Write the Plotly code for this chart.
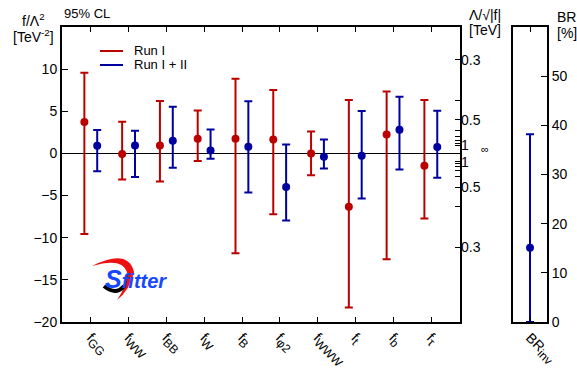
import plotly.graph_objects as go

W, H = 577, 369

# ---------------- data ----------------
subs = ["GG", "WW", "BB", "W", "B", "φ2", "WWW", "t", "b", "τ"]
categories = [f"f<sub><span style='font-size:12px'>{s}</span></sub>" for s in subs]

run1_central = [3.72, -0.08, 0.95, 1.73, 1.73, 1.66, 0.00, -6.34, 2.26, -1.47]
run1_upper = [9.57, 3.75, 6.21, 5.10, 8.86, 7.52, 2.61, 6.33, 7.36, 6.33]
run1_lower = [-9.55, -3.09, -3.33, -0.91, -11.84, -7.21, -2.58, -18.29, -12.55, -7.72]

run12_central = [0.90, 0.95, 1.50, 0.36, 0.78, -3.97, -0.40, -0.29, 2.80, 0.75]
run12_upper = [2.77, 2.68, 5.53, 2.85, 6.18, 1.07, 1.66, 5.02, 6.72, 5.06]
run12_lower = [-2.10, -2.81, -1.71, -0.64, -4.63, -7.96, -1.78, -5.34, -1.90, -2.90]

br_category = ["BR<sub><span style='font-size:12px'>inv</span></sub>"]
br_central = [15.1]
br_upper = [38.2]
br_lower = [0.0]

# right axis: Lambda/sqrt|f| in TeV
lambda_major = [0.3, 0.5, 1.0]
lambda_major_labels = ["0.3", "0.5", "1"]
lambda_minor = [0.4, 0.6, 0.7, 0.8, 0.9]

br_ticks = [0, 10, 20, 30, 40, 50]

RED = "#bb0000"
BLUE = "#0000a0"
FONT = "Liberation Sans, Arial, sans-serif"

def px_x(p):
    return p / W

def px_y(p):
    return 1 - p / H

# layout geometry (pixels)
main_l, main_r = 62, 460
br_l, br_r = 513, 547
top, bottom = 27, 322

idx = list(range(len(categories)))

fig = go.Figure()

def add_series(central, upper, lower, offset, color, name):
    fig.add_trace(go.Scatter(
        x=[i + offset for i in idx], y=central, mode="markers", name=name,
        marker=dict(color=color, size=8),
        error_y=dict(type="data", symmetric=False,
                     array=[u - c for u, c in zip(upper, central)],
                     arrayminus=[c - l for c, l in zip(central, lower)],
                     color=color, thickness=2, width=4),
        showlegend=False, xaxis="x", yaxis="y"))

add_series(run1_central, run1_upper, run1_lower, -0.175, RED, "Run I")
add_series(run12_central, run12_upper, run12_lower, 0.165, BLUE, "Run I + II")

fig.add_trace(go.Scatter(
    x=br_category, y=br_central, mode="markers",
    marker=dict(color=BLUE, size=8),
    error_y=dict(type="data", symmetric=False,
                 array=[u - c for u, c in zip(br_upper, br_central)],
                 arrayminus=[c - l for c, l in zip(br_central, br_lower)],
                 color=BLUE, thickness=2, width=4),
    showlegend=False, xaxis="x2", yaxis="y2"))

# invisible trace to activate the right-hand Lambda axis
fig.add_trace(go.Scatter(x=[0], y=[0], mode="markers", marker=dict(opacity=0),
                         showlegend=False, hoverinfo="skip", xaxis="x", yaxis="y3"))

lam_vals = [1 / l ** 2 for l in lambda_major] + [-1 / l ** 2 for l in lambda_major]
lam_text = lambda_major_labels + lambda_major_labels
lam_minor_vals = [1 / l ** 2 for l in lambda_minor] + [-1 / l ** 2 for l in lambda_minor]

tickfont = dict(family=FONT, size=14, color="black")
common = dict(showgrid=False, automargin=False, tickcolor="black", tickwidth=1)

fig.update_layout(
    width=W, height=H, margin=dict(l=0, r=0, t=0, b=0, autoexpand=False),
    paper_bgcolor="white", plot_bgcolor="white",
    font=dict(family=FONT, size=14, color="black"),
    xaxis=dict(domain=[px_x(main_l), px_x(main_r)], range=[-0.767, 9.767],
               tickvals=idx, ticktext=categories, tickangle=45,
               ticks="inside", ticklen=5,
               showline=True, linecolor="black", linewidth=2, mirror="ticks",
               zeroline=False, tickfont=tickfont,
               anchor="y", **common),
    yaxis=dict(domain=[px_y(bottom), px_y(top)], range=[-20, 15],
               tickvals=[-20, -15, -10, -5, 0, 5, 10],
               ticks="inside", ticklen=6,
               showline=True, linecolor="black", linewidth=2, mirror=True,
               zeroline=True, zerolinecolor="black", zerolinewidth=1,
               tickfont=tickfont, anchor="x", **common),
    yaxis3=dict(overlaying="y", side="right", anchor="x", range=[-20, 15],
                tickvals=lam_vals, ticktext=lam_text,
                ticks="inside", ticklen=5,
                minor=dict(tickvals=lam_minor_vals, ticks="inside", ticklen=5,
                           tickcolor="black", tickwidth=1, showgrid=False),
                showline=False, zeroline=False,
                tickfont=tickfont, **common),
    xaxis2=dict(domain=[px_x(br_l), px_x(br_r)], type="category",
                tickangle=45, ticks="inside", ticklen=5,
                showline=True, linecolor="black", linewidth=2, mirror="ticks",
                zeroline=False, tickfont=tickfont,
                anchor="y2", **common),
    yaxis2=dict(domain=[px_y(bottom), px_y(top)], range=[0, 60], side="right",
                tickvals=br_ticks, ticks="inside", ticklen=6,
                showline=True, linecolor="black", linewidth=2, mirror=True,
                zeroline=False, tickfont=tickfont, anchor="x2", **common),
)

ann = []

def text(x, y, s, size=14, xanchor="center", color="black"):
    ann.append(dict(x=px_x(x), y=px_y(y), xref="paper", yref="paper",
                    text=s, showarrow=False, xanchor=xanchor, yanchor="middle",
                    font=dict(family=FONT, size=size, color=color)))

text(62, 14, "95% CL", 13, "left")
text(33, 20, "f/Λ<sup>2</sup>", 14)
text(33, 36, "[TeV<sup>-2</sup>]", 14)
text(467, 15, "Λ/√|f|", 14, "left")
text(467, 30, "[TeV]", 14, "left")
text(555, 17, "BR", 14, "left")
text(555, 33, "[%]", 14, "left")
# infinity label at f = 0 on the Lambda axis
ann.append(dict(x=px_x(479), y=0.5, xref="paper", yref="y", text="∞", showarrow=False,
                xanchor="left", yanchor="middle", font=dict(family=FONT, size=11, color="black")))

# legend (manual)
legend_items = [("Run I", RED, 51), ("Run I + II", BLUE, 65)]
shapes = []
for name, col, yy in legend_items:
    shapes.append(dict(type="line", xref="paper", yref="paper",
                       x0=px_x(100), x1=px_x(123), y0=px_y(yy), y1=px_y(yy),
                       line=dict(color=col, width=2)))
    text(132, yy, name, 13, "left")

# SFitter logo
def pth(cmds):
    s = ""
    for cmd, pts in cmds:
        s += cmd + " " + " ".join(f"{px_x(a):.5f},{px_y(b):.5f}" for a, b in pts) + " "
    return s

shapes.append(dict(type="path", xref="paper", yref="paper",
                   path=pth([("M", [(92, 266)]), ("Q", [(128, 248), (134, 272)]),
                             ("Q", [(130, 290), (117, 300)]), ("Q", [(128, 284), (127, 272)]),
                             ("Q", [(122, 257), (92, 266)])]) + "Z",
                   fillcolor="#ee1111", line=dict(width=0)))
shapes.append(dict(type="path", xref="paper", yref="paper",
                   path=pth([("M", [(104, 286)]), ("Q", [(116, 296), (124, 286)])]),
                   line=dict(color="black", width=4)))
ann.append(dict(x=px_x(103), y=px_y(279), xref="paper", yref="paper", showarrow=False,
                text="<b><i><span style='font-size:25px'>S</span>fitter</i></b>",
                xanchor="left", yanchor="middle",
                font=dict(family=FONT, size=20, color="#1748ff")))

fig.update_layout(annotations=ann, shapes=shapes)

fig.write_html("out.html")
